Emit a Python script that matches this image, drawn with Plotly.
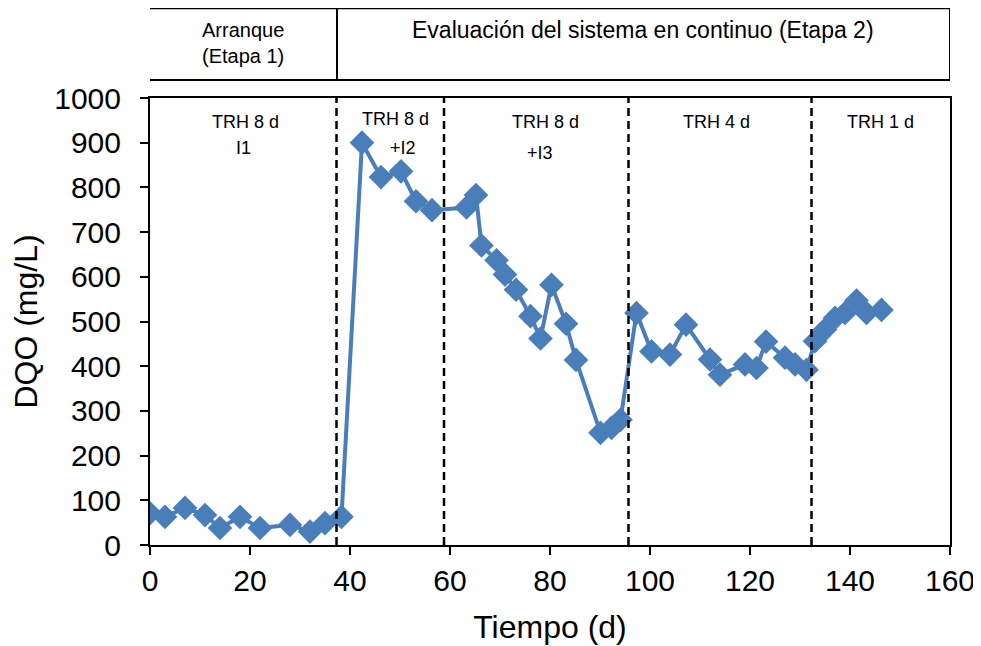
import plotly.graph_objects as go

# DQO over time
tiempo = [0, 3, 7, 11, 14, 18, 22, 28, 32, 35, 38.3,
          42.4, 46.2, 50.2, 53.2, 56.4, 63.3, 65.2, 66.3, 69.3, 71, 73.2, 76.1, 78.1,
          80.3, 83.2, 85.2, 90.1, 92.3, 94.1, 97.3, 100.3, 104, 107.2, 112, 114, 119,
          121.3, 123.2, 127, 129, 131.3, 133, 135, 137, 139, 141.3, 143.3, 146.3]
dqo = [71, 63, 83, 67, 38, 63, 38, 45, 30, 49, 63,
       900, 823, 836, 769, 749, 755, 783, 670, 637, 605, 571, 512, 462,
       582, 495, 414, 251, 262, 280, 519, 433, 426, 493, 415, 381, 404,
       396, 455, 419, 404, 392, 456, 482, 508, 519, 547, 519, 526]

# stage boundaries (dashed lines)
limites = [37.3, 58.8, 95.7, 132.3]

# stage labels inside the plot
etapas_x = [19, 49, 79, 113.2, 146]
etapas_l1 = ["TRH 8 d", "TRH 8 d", "TRH 8 d", "TRH 4 d", "TRH 1 d"]
etapas_y1 = [946, 952, 946, 946, 946]
etapas_x2 = [18.6, 50.6, 78]
etapas_l2 = ["I1", "+I2", "+I3"]
etapas_y2 = [888, 888, 877]

LBL = "Liberation Sans, Arial"

fig = go.Figure()
fig.add_trace(go.Scatter(
    x=tiempo, y=dqo, mode="lines+markers",
    line=dict(color="#4A7EBB", width=4),
    marker=dict(symbol="diamond", size=19, color="#4A7EBB"),
    showlegend=False,
))

for lx in limites:
    fig.add_shape(type="line", xref="x", yref="y", x0=lx, x1=lx, y0=0, y1=1000,
                  line=dict(color="black", width=2.5, dash="8px,5px"))

font_lbl = dict(family=LBL, size=18, color="black")
for x, t, y in zip(etapas_x, etapas_l1, etapas_y1):
    fig.add_annotation(x=x, y=y, text=t, showarrow=False, font=font_lbl)
for x, t, y in zip(etapas_x2, etapas_l2, etapas_y2):
    fig.add_annotation(x=x, y=y, text=t, showarrow=False, font=font_lbl)

# header boxes above the plot
fig.add_shape(type="rect", xref="x", yref="paper", x0=-0.4, x1=160, y0=1.04, y1=1.201,
              line=dict(color="black", width=2))
fig.add_shape(type="line", xref="x", yref="paper", x0=37.4, x1=37.4, y0=1.04, y1=1.201,
              line=dict(color="black", width=2))
fig.add_annotation(x=18.6, y=1.122, xref="x", yref="paper", showarrow=False,
                   yanchor="middle", text="Arranque<br>(Etapa 1)",
                   font=dict(family=LBL, size=20, color="black"))
fig.add_annotation(x=98.6, y=1.152, xref="x", yref="paper", showarrow=False,
                   yanchor="middle", text="Evaluación del sistema en continuo (Etapa 2)",
                   font=dict(family=LBL, size=23, color="black"))

axis_font = dict(family=LBL, size=30, color="black")
title_font = dict(family=LBL, size=32, color="black")
fig.update_xaxes(range=[0, 160], dtick=20, showline=True, linecolor="black", linewidth=2,
                 mirror=True, ticks="outside", ticklen=8, tickwidth=2, tickcolor="black",
                 showgrid=False, zeroline=False, tickfont=axis_font,
                 title=dict(text="Tiempo (d)", font=title_font, standoff=20))
fig.update_yaxes(range=[0, 1000], dtick=100, showline=True, linecolor="black", linewidth=2,
                 mirror=True, ticks="outside", ticklen=8, tickwidth=2, tickcolor="black",
                 showgrid=False, zeroline=False, tickfont=axis_font, ticklabelstandoff=13,
                 title=dict(text="DQO (mg/L)", font=title_font, standoff=10))
# page body has an 8px margin, so the figure is 16px smaller than the window
fig.update_layout(width=973, height=638, plot_bgcolor="white", paper_bgcolor="white",
                  margin=dict(l=142, r=31, t=90, b=101, autoexpand=False))

fig.write_html("out.html")
